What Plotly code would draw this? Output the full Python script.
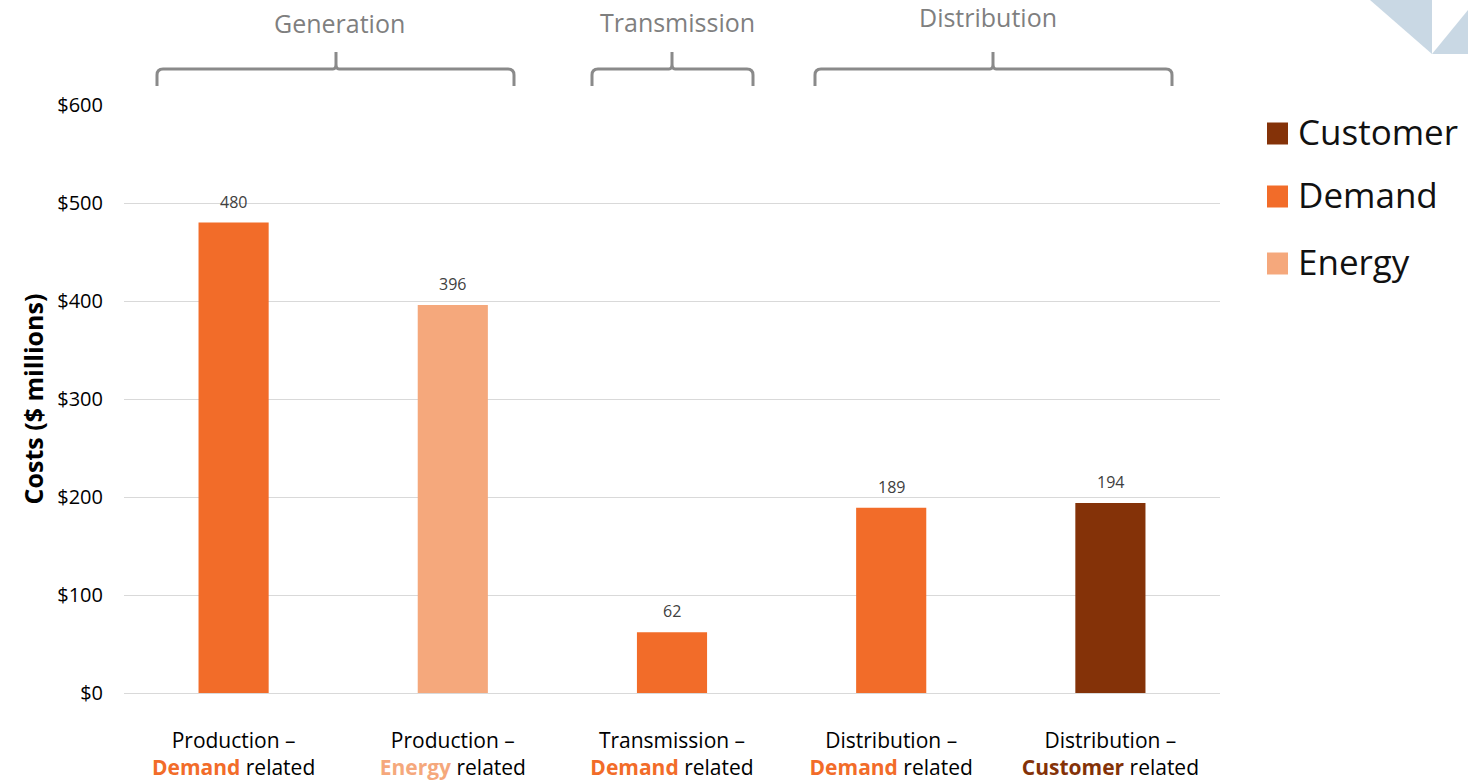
import plotly.graph_objects as go

# Cost categories and their classification
categories = [
    "Production – Demand related",
    "Production – Energy related",
    "Transmission – Demand related",
    "Distribution – Demand related",
    "Distribution – Customer related",
]
tick_first_lines = ["Production –", "Production –", "Transmission –", "Distribution –", "Distribution –"]
cost_types = ["Demand", "Energy", "Demand", "Demand", "Customer"]
costs = [480, 396, 62, 189, 194]  # $ millions

legend_order = ["Customer", "Demand", "Energy"]
type_colors = {"Customer": "#843208", "Demand": "#F26C29", "Energy": "#F5A87C"}

groups = ["Generation", "Transmission", "Distribution"]

FONT = "Open Sans"
W, H = 1468, 781
M_L, M_R, M_T, M_B = 124, 248, 105, 88
PW, PH = W - M_L - M_R, H - M_T - M_B


def px(x):
    """Pixel x -> paper x."""
    return (x - M_L) / PW


def py(y):
    """Pixel y (from top) -> paper y."""
    return (H - M_B - y) / PH


fig = go.Figure()

# one trace per cost type so each keeps its own colour
for t in legend_order:
    xs = [c for c, ct in zip(categories, cost_types) if ct == t]
    ys = [v for v, ct in zip(costs, cost_types) if ct == t]
    fig.add_trace(go.Bar(
        x=xs, y=ys, name=t, width=0.32,
        marker=dict(color=type_colors[t], line=dict(width=0)),
        showlegend=False, hoverinfo="x+y",
    ))

# value labels above bars
for c, v in zip(categories, costs):
    fig.add_annotation(
        x=c, y=v, xref="x", yref="y", text=str(v), showarrow=False,
        yanchor="bottom", yshift=8,
        font=dict(family=FONT, size=16, color="#404040"),
    )

# two-line category labels with the cost type highlighted
tick_text = [
    f"{first}<br><b><span style='color:{type_colors[t]}'>{t}</span></b> related"
    for first, t in zip(tick_first_lines, cost_types)
]

# braces grouping the functional categories
brace_spans = [(157, 514, 336), (592, 753, 672), (815, 1172, 993)]
label_pos = [(339, 23), (677, 22), (988, 17)]
shapes = []
for x0, x1, xm in brace_spans:
    pts = [
        ("M", [(x0, 86)]), ("L", [(x0, 75)]), ("Q", [(x0, 69), (x0 + 6, 69)]),
        ("L", [(xm - 3, 69)]), ("Q", [(xm, 69), (xm, 64)]), ("L", [(xm, 52)]),
        ("L", [(xm, 64)]), ("Q", [(xm, 69), (xm + 3, 69)]),
        ("L", [(x1 - 6, 69)]), ("Q", [(x1, 69), (x1, 75)]), ("L", [(x1, 86)]),
    ]
    path = " ".join(
        cmd + " " + " ".join(f"{px(a):.5f},{py(b):.5f}" for a, b in p) for cmd, p in pts
    )
    shapes.append(dict(type="path", path=path, xref="paper", yref="paper",
                       line=dict(color="#8a8a8a", width=3), layer="above"))

for g, (lx, ly) in zip(groups, label_pos):
    fig.add_annotation(
        x=px(lx), y=py(ly), xref="paper", yref="paper", text=g, showarrow=False,
        xanchor="center", yanchor="middle",
        font=dict(family=FONT, size=25, color="#7f7f7f"),
    )

# legend drawn as squares with labels
leg_y = [133.5, 196.5, 263.5]
for t, cy in zip(legend_order, leg_y):
    shapes.append(dict(type="rect", xref="paper", yref="paper",
                       x0=px(1267), x1=px(1288), y0=py(cy + 11), y1=py(cy - 11),
                       fillcolor=type_colors[t], line=dict(width=0)))
    fig.add_annotation(
        x=px(1296), y=py(cy - 2), xref="paper", yref="paper", text=t, showarrow=False,
        xanchor="left", yanchor="middle",
        font=dict(family=FONT, size=35, color="#111111"),
    )

# corner decoration
deco_color = "#C9D8E4"
shapes.append(dict(type="path", xref="paper", yref="paper",
                   path=f"M {px(1370)},{py(0)} L {px(1432)},{py(0)} L {px(1432)},{py(54)} Z",
                   fillcolor=deco_color, line=dict(width=0)))
shapes.append(dict(type="path", xref="paper", yref="paper",
                   path=f"M {px(1432)},{py(54)} L {px(1468)},{py(10)} L {px(1468)},{py(54)} Z",
                   fillcolor=deco_color, line=dict(width=0)))

fig.update_layout(
    width=W, height=H,
    margin=dict(l=M_L, r=M_R, t=M_T, b=M_B, autoexpand=False),
    paper_bgcolor="white", plot_bgcolor="white",
    barmode="overlay",
    shapes=shapes,
    showlegend=False,
    font=dict(family=FONT, color="#000000"),
    xaxis=dict(
        type="category", categoryorder="array", categoryarray=categories,
        tickmode="array", tickvals=categories, ticktext=tick_text,
        tickfont=dict(family=FONT, size=21, color="#000000"),
        showgrid=False, showline=False, zeroline=False, ticks="",
        ticklabelstandoff=33, range=[-0.5, 4.5],
    ),
    yaxis=dict(
        range=[0, 600], tickmode="array", tickvals=[0, 100, 200, 300, 400, 500, 600],
        ticktext=["$0", "$100", "$200", "$300", "$400", "$500", "$600"],
        tickfont=dict(family=FONT, size=20, color="#000000"),
        showgrid=True, gridcolor="#D9D9D9", gridwidth=1,
        zeroline=True, zerolinecolor="#D9D9D9", zerolinewidth=1,
        showline=False, ticks="", ticklabelstandoff=20,
        title=dict(text="<b>Costs ($ millions)</b>", standoff=6,
                   font=dict(family=FONT, size=25, color="#000000")),
    ),
)

fig.write_html("out.html")
